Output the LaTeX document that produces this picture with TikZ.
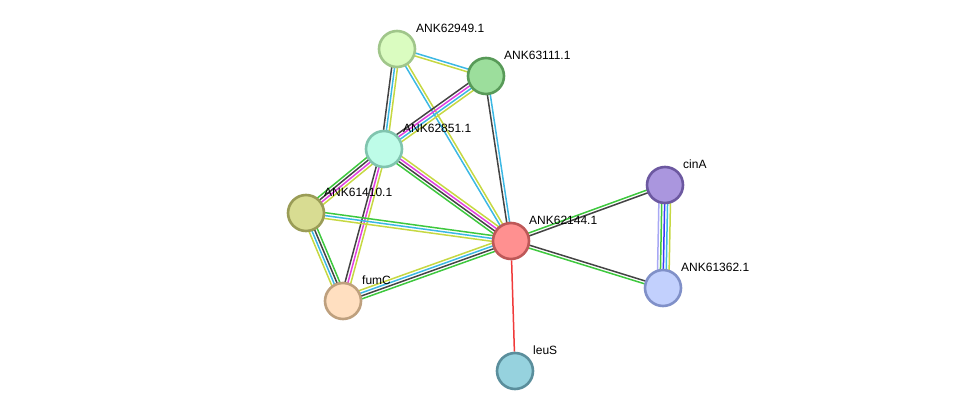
\documentclass[tikz,border=0pt]{standalone}
\usepackage{fontspec}
\setmainfont{Liberation Sans}
\usetikzlibrary{calc,backgrounds}
\definecolor{cTM}{HTML}{C6D842}
\definecolor{cDB}{HTML}{3CB8E4}
\definecolor{cEX}{HTML}{E040E0}
\definecolor{cCO}{HTML}{444444}
\definecolor{cNB}{HTML}{3EC83E}
\definecolor{cCC}{HTML}{3A3AF8}
\definecolor{cHO}{HTML}{A8A8F4}
\definecolor{cFU}{HTML}{F03A3A}
\tikzset{
  prot/.style={circle,minimum size=36pt,inner sep=0pt,line width=2.6pt},
  plabel/.style={anchor=west,font=\fontsize{12}{13}\selectfont,text=black,inner sep=0pt},
  eline/.style={line width=1.5pt}
}
\newcommand\sedge[3]{%
  \foreach \c [count=\i] in {#3}{%
    \pgfmathsetmacro\off{((#2+1)/2-\i)*2.9}%
    \draw[eline,\c] ($(#1)!\off pt!90:(\edgeB)$) -- ($(\edgeB)!\off pt!-90:(#1)$);}}
\newcommand\pedge[4]{\def\edgeB{#2}\sedge{#1}{#3}{#4}}
\begin{document}
\begin{tikzpicture}[x=1pt,y=-1pt]
\useasboundingbox (0,0) rectangle (975,417);
\node[prot,fill={rgb,255:red,218;green,252;blue,192},draw={rgb,255:red,160;green,198;blue,138}] (n62949) at (397,49) {};
\node[prot,fill={rgb,255:red,156;green,222;blue,156},draw={rgb,255:red,88;green,154;blue,88}] (n63111) at (486,76) {};
\node[prot,fill={rgb,255:red,190;green,252;blue,232},draw={rgb,255:red,128;green,196;blue,174}] (n62851) at (384,149) {};
\node[prot,fill={rgb,255:red,216;green,220;blue,146},draw={rgb,255:red,154;green,156;blue,86}] (n61410) at (306,213) {};
\node[prot,fill={rgb,255:red,255;green,223;blue,192},draw={rgb,255:red,190;green,160;blue,126}] (fumC) at (343,301) {};
\node[prot,fill={rgb,255:red,255;green,144;blue,144},draw={rgb,255:red,190;green,88;blue,88}] (n62144) at (511,241) {};
\node[prot,fill={rgb,255:red,170;green,150;blue,222},draw={rgb,255:red,108;green,88;blue,160}] (cinA) at (665,185) {};
\node[prot,fill={rgb,255:red,194;green,208;blue,253},draw={rgb,255:red,128;green,144;blue,200}] (n61362) at (663,288) {};
\node[prot,fill={rgb,255:red,150;green,210;blue,222},draw={rgb,255:red,90;green,142;blue,156}] (leuS) at (515,371) {};
\begin{pgfonlayer}{background}
\pedge{n62949}{n63111}{2}{cDB,cTM}
\pedge{n62949}{n62851}{3}{cTM,cDB,cCO}
\pedge{n62949}{n62144}{2}{cTM,cDB}
\pedge{n63111}{n62851}{4}{cTM,cDB,cEX,cCO}
\pedge{n63111}{n62144}{2}{cDB,cCO}
\pedge{n62851}{n61410}{4}{cTM,cEX,cCO,cNB}
\pedge{n62851}{fumC}{3}{cTM,cEX,cCO}
\pedge{n62851}{n62144}{4}{cTM,cEX,cCO,cNB}
\pedge{n61410}{n62144}{3}{cNB,cDB,cTM}
\pedge{n61410}{fumC}{4}{cNB,cCO,cDB,cTM}
\pedge{fumC}{n62144}{4}{cTM,cDB,cCO,cNB}
\pedge{n62144}{cinA}{2}{cNB,cCO}
\pedge{n62144}{n61362}{2}{cCO,cNB}
\pedge{cinA}{n61362}{5}{cTM,cDB,cCC,cNB,cHO}
\draw[eline,cFU] (n62144) -- (leuS);
\end{pgfonlayer}
\node[plabel] at ($(n62949)+(19,-21)$) {ANK62949.1};
\node[plabel] at ($(n63111)+(18,-21)$) {ANK63111.1};
\node[plabel] at ($(n62851)+(19,-21)$) {ANK62851.1};
\node[plabel] at ($(n61410)+(18,-21)$) {ANK61410.1};
\node[plabel] at ($(fumC)+(19,-21)$) {fumC};
\node[plabel] at ($(n62144)+(18,-21)$) {ANK62144.1};
\node[plabel] at ($(cinA)+(18,-21)$) {cinA};
\node[plabel] at ($(n61362)+(18,-21)$) {ANK61362.1};
\node[plabel] at ($(leuS)+(18,-21)$) {leuS};
\end{tikzpicture}
\end{document}
